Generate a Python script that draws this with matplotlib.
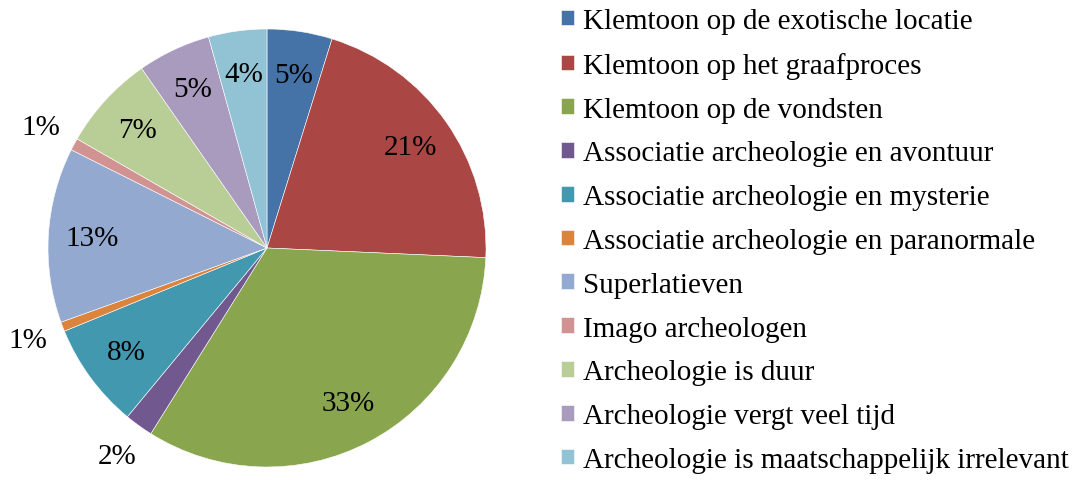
import matplotlib
matplotlib.use('Agg')
import matplotlib.pyplot as plt
import numpy as np

categories = [
    "Klemtoon op de exotische locatie",
    "Klemtoon op het graafproces",
    "Klemtoon op de vondsten",
    "Associatie archeologie en avontuur",
    "Associatie archeologie en mysterie",
    "Associatie archeologie en paranormale",
    "Superlatieven",
    "Imago archeologen",
    "Archeologie is duur",
    "Archeologie vergt veel tijd",
    "Archeologie is maatschappelijk irrelevant",
]
shares = [4.8, 20.9, 33.2, 2.1, 7.8, 0.7, 12.9, 0.9, 7.0, 5.4, 4.3]
colors = ['#4572A7', '#AA4643', '#89A54E', '#71588F', '#4198AF', '#DB843D',
          '#93A9CF', '#D19392', '#B9CD96', '#A99BBD', '#91C3D5']

plt.rcParams['font.family'] = ['Liberation Serif', 'DejaVu Serif']
FS = 21

W, H = 1079, 481
fig = plt.figure(figsize=(W / 100, H / 100), dpi=100)

# pie centre and radius in pixels
cx, cy, r = 267, 249, 219
ax = fig.add_axes([(cx - r) / W, (H - cy - r) / H, 2 * r / W, 2 * r / H])

wedges, _ = ax.pie(shares, colors=colors, startangle=90, counterclock=False,
                   radius=1.0, wedgeprops=dict(edgecolor='white', linewidth=0.4))
ax.set_xlim(-1, 1)
ax.set_ylim(-1, 1)
ax.set_aspect('equal')
ax.axis('off')

# percentage labels: inside for big slices, outside for small ones
for w, v in zip(wedges, shares):
    mid = np.deg2rad((w.theta1 + w.theta2) / 2)
    dist = 1.17 if v < 3 else 0.80
    ax.text(dist * np.cos(mid), dist * np.sin(mid), f"{v:.0f}%",
            ha='center', va='center', fontsize=FS, clip_on=False)

# legend kept just inside the bottom edge
fig.legend(wedges, categories, loc='upper left',
           bbox_to_anchor=(561 / W, 1 - 9 / H), frameon=False,
           fontsize=FS, handlelength=0.45, handleheight=0.45,
           handletextpad=0.32, labelspacing=0.61, borderpad=0, borderaxespad=0)

fig.savefig('out.png', dpi=100)
